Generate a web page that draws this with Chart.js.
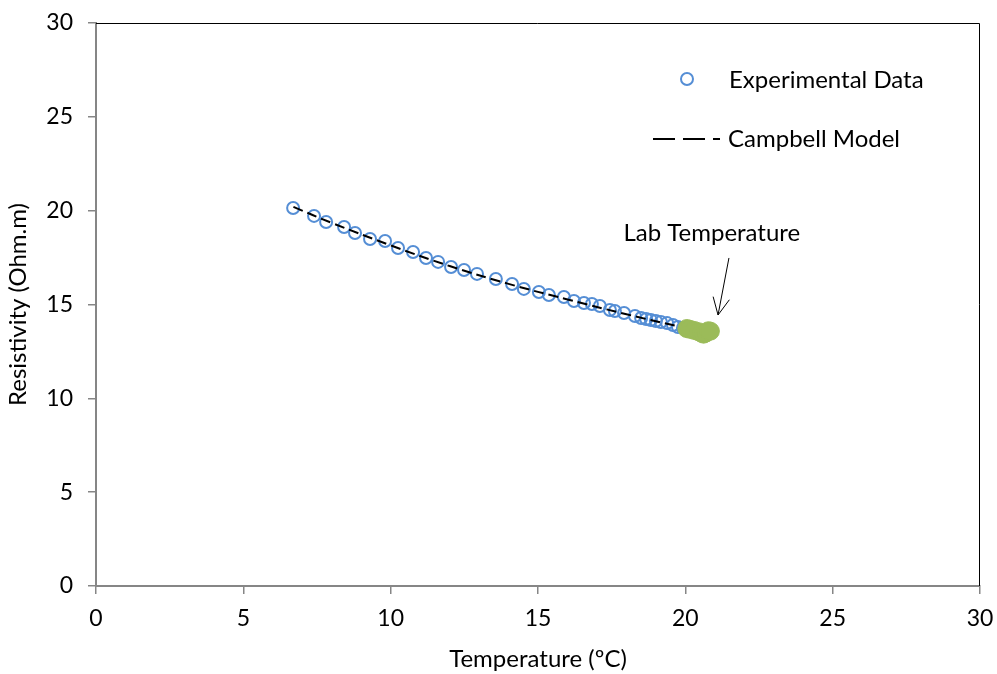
<!DOCTYPE html>
<html>
<head>
<meta charset="utf-8">
<script src="https://cdn.jsdelivr.net/npm/chart.js@4"></script>
<style>
  html,body{margin:0;padding:0;background:#fff;}
  #wrap{width:997px;height:674px;position:relative;}
</style>
</head>
<body>
<div id="wrap"><canvas id="c" width="997" height="674"></canvas></div>
<script>
// ---- data ----
const expTemp = [6.69,7.40,7.81,8.42,8.79,9.30,9.81,10.25,10.76,11.20,11.61,12.05,12.49,12.93,13.57,14.12,14.52,15.03,15.37,15.88,16.22,16.56,16.83,17.10,17.44,17.61,17.92,18.29,18.50,18.67,18.83,19.00,19.17,19.38,19.58,19.75,19.92,20.05];
const expRes  = [20.14,19.72,19.40,19.13,18.81,18.49,18.38,18.01,17.80,17.48,17.27,17.00,16.84,16.63,16.36,16.09,15.83,15.67,15.51,15.40,15.19,15.08,15.03,14.92,14.71,14.65,14.55,14.39,14.28,14.23,14.17,14.12,14.07,14.01,13.91,13.80,13.75,13.72];

const labTemp = [20.05,20.15,20.30,20.45,20.55,20.62,20.70,20.78,20.85];
const labRes  = [13.72,13.68,13.62,13.55,13.47,13.42,13.48,13.60,13.58];

const modelTemp = [6.7,8.0,10.0,12.0,14.0,16.0,18.0,20.0,20.7];
const modelRes  = [20.20,19.35,18.15,17.05,16.10,15.27,14.48,13.75,13.52];

const xTicks = [0,5,10,15,20,25,30];
const yTicks = [0,5,10,15,20,25,30];

const seriesNames = ['Experimental Data','Campbell Model'];
const annotationText = 'Lab Temperature';
const annotationPos = {x:20.9, y:18.8};
const arrowFrom = {x:21.48, y:17.48};
const arrowTo   = {x:21.11, y:14.44};

const pts = (xs, ys) => xs.map((x,i)=>({x:x, y:ys[i]}));

const FONT = 'Lato, "Open Sans", sans-serif';
const BLUE = '#558ED5';
const GREEN = '#9BBB59';
const AXIS = '#868686';
const TXT = 24;

const extras = {
  id:'extras',
  beforeDatasetsDraw(chart){
    const {ctx, chartArea:a} = chart;
    ctx.save();
    ctx.strokeStyle = '#000';
    ctx.lineWidth = 1;
    ctx.beginPath();
    ctx.moveTo(a.left, a.top+0.5);
    ctx.lineTo(a.right-0.5, a.top+0.5);
    ctx.lineTo(a.right-0.5, a.bottom);
    ctx.stroke();
    ctx.restore();
  },
  afterDraw(chart){
    const {ctx, scales:{x, y}} = chart;
    ctx.save();
    // legend
    ctx.font = TXT + 'px ' + FONT;
    ctx.fillStyle = '#000';
    ctx.textBaseline = 'middle';
    ctx.textAlign = 'left';
    ctx.strokeStyle = BLUE;
    ctx.lineWidth = 2;
    ctx.beginPath(); ctx.arc(687, 79, 6, 0, Math.PI*2); ctx.stroke();
    ctx.fillText(seriesNames[0], 729, 80);
    ctx.strokeStyle = '#000';
    ctx.lineWidth = 2;
    ctx.setLineDash([22,8]);
    ctx.beginPath(); ctx.moveTo(653, 139); ctx.lineTo(720, 139); ctx.stroke();
    ctx.setLineDash([]);
    ctx.fillText(seriesNames[1], 728, 139);
    // annotation text
    ctx.textAlign = 'center';
    ctx.fillText(annotationText, x.getPixelForValue(annotationPos.x), y.getPixelForValue(annotationPos.y));
    // arrow
    const x1 = x.getPixelForValue(arrowFrom.x), y1 = y.getPixelForValue(arrowFrom.y);
    const x2 = x.getPixelForValue(arrowTo.x), y2 = y.getPixelForValue(arrowTo.y);
    ctx.strokeStyle = '#000';
    ctx.lineWidth = 1;
    ctx.beginPath(); ctx.moveTo(x1,y1); ctx.lineTo(x2,y2); ctx.stroke();
    const ang = Math.atan2(y2-y1, x2-x1);
    const L = 19, w = 0.45;
    ctx.beginPath();
    ctx.moveTo(x2 - L*Math.cos(ang-w), y2 - L*Math.sin(ang-w));
    ctx.lineTo(x2, y2);
    ctx.lineTo(x2 - L*Math.cos(ang+w), y2 - L*Math.sin(ang+w));
    ctx.stroke();
    ctx.restore();
  }
};

new Chart(document.getElementById('c'), {
  type:'scatter',
  data:{
    datasets:[
      {
        label:annotationText,
        data:pts(labTemp, labRes),
        pointRadius:9,
        pointBackgroundColor:GREEN,
        pointBorderColor:GREEN,
        pointBorderWidth:1
      },
      {
        label:seriesNames[1],
        data:pts(modelTemp, modelRes),
        showLine:true,
        borderColor:'#000',
        borderWidth:2,
        borderDash:[10,5],
        pointRadius:0,
        tension:0.4,
        fill:false
      },
      {
        label:seriesNames[0],
        data:pts(expTemp, expRes),
        pointRadius:6,
        pointBorderWidth:2,
        pointBorderColor:BLUE,
        pointBackgroundColor:'rgba(0,0,0,0)'
      }
    ]
  },
  options:{
    responsive:false,
    animation:false,
    layout:{padding:{top:23, right:17, left:0, bottom:0}},
    plugins:{legend:{display:false}, tooltip:{enabled:false}},
    scales:{
      x:{
        type:'linear', min:0, max:30,
        afterBuildTicks(s){ s.ticks = xTicks.map(v=>({value:v})); },
        afterFit(s){ s.height = 88; s.paddingLeft = 0; s.paddingRight = 0; },
        grid:{drawOnChartArea:false, drawTicks:true, tickLength:8, color:AXIS, lineWidth:1.5},
        border:{color:AXIS, width:2},
        ticks:{color:'#000', font:{family:FONT, size:23}, padding:11, maxRotation:0},
        title:{display:true, text:'Temperature (ºC)', color:'#000', font:{family:FONT, size:TXT}, padding:{top:0,bottom:0}}
      },
      y:{
        type:'linear', min:0, max:30,
        afterBuildTicks(s){ s.ticks = yTicks.map(v=>({value:v})); },
        afterFit(s){ s.width = 96; s.paddingTop = 0; s.paddingBottom = 0; },
        grid:{drawOnChartArea:false, drawTicks:true, tickLength:8, color:AXIS, lineWidth:1.5},
        border:{color:AXIS, width:2},
        ticks:{color:'#000', font:{family:FONT, size:23}, padding:15},
        title:{display:true, text:'Resistivity (Ohm.m)', color:'#000', font:{family:FONT, size:TXT}, padding:{top:4,bottom:0}}
      }
    }
  },
  plugins:[extras]
});
</script>
</body>
</html>
